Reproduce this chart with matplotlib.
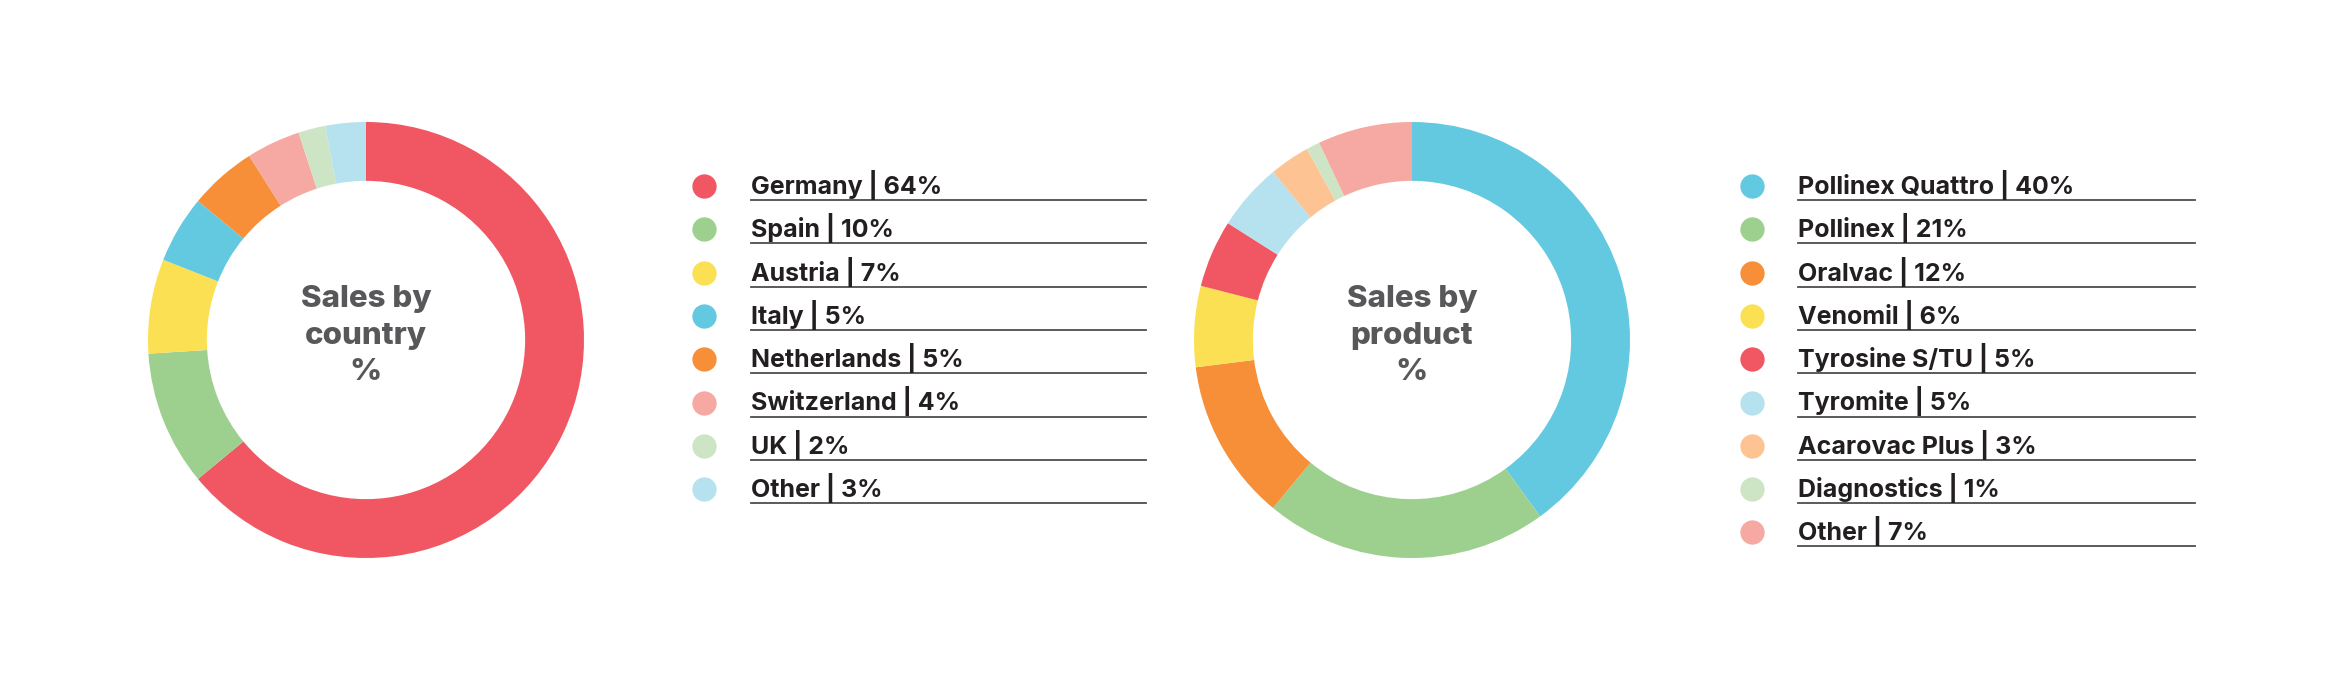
import matplotlib
matplotlib.use("Agg")
import matplotlib.pyplot as plt
from matplotlib.lines import Line2D

### Data
countries = ["Germany", "Spain", "Austria", "Italy", "Netherlands", "Switzerland", "UK", "Other"]
country_share = [64, 10, 7, 5, 5, 4, 2, 3]
country_colors = ["#f05763", "#9dd08e", "#fbe053", "#63c9e0", "#f68f37", "#f6a9a2", "#cde5c5", "#b5e2ee"]

products = ["Pollinex Quattro", "Pollinex", "Oralvac", "Venomil", "Tyrosine S/TU", "Tyromite",
            "Acarovac Plus", "Diagnostics", "Other"]
product_share = [40, 21, 12, 6, 5, 5, 3, 1, 7]
product_colors = ["#63c9e0", "#9dd08e", "#f68f37", "#fbe053", "#f05763", "#b5e2ee", "#fdc393", "#cde5c5", "#f6a9a2"]

### Layout (pixels, measured from top-left)
W, H = 2352, 683
DPI = 100
plt.rcParams['font.family'] = ['Inter', 'DejaVu Sans']

fig = plt.figure(figsize=(W / DPI, H / DPI), dpi=DPI)
fig.patch.set_facecolor("white")

def fx(x):
	return x / W

def fy(y):
	return 1 - y / H

def donut(cx, cy, r, values, cols, title):
	ax = fig.add_axes([fx(cx - r), fy(cy + r), 2 * r / W, 2 * r / H])
	ax.pie(values, colors=cols, startangle=90, counterclock=False, radius=1,
		wedgeprops=dict(width=0.27, linewidth=0))
	ax.set_xlim(-1, 1)
	ax.set_ylim(-1, 1)
	ax.set_aspect("auto")
	ax.axis("off")
	ax.text(0, 0.02, title, ha="center", va="center", fontsize=22.5, fontweight="heavy",
		color="#58585a", linespacing=1.4)

def legend(x_mark, x_text, x_end, y0, names, values, cols):
	step = 43.3
	for i, (n, v, c) in enumerate(zip(names, values, cols)):
		y = y0 + i * step
		fig.add_artist(Line2D([fx(x_mark)], [fy(y - 8)], marker="o", markersize=17.5,
			color=c, markeredgewidth=0, transform=fig.transFigure))
		fig.text(fx(x_text), fy(y), "%s | %d%%" % (n, v), ha="left", va="baseline",
			fontsize=18, fontweight="bold", color="#231f20")
		fig.add_artist(Line2D([fx(x_text), fx(x_end)], [fy(y + 6), fy(y + 6)],
			color="#4d4d4f", linewidth=1.3, transform=fig.transFigure))

donut(366, 340, 218, country_share, country_colors, "Sales by\ncountry\n%")
legend(704, 751, 1146, 194, countries, country_share, country_colors)

donut(1412, 340, 218, product_share, product_colors, "Sales by\nproduct\n%")
legend(1752, 1798, 2195, 194, products, product_share, product_colors)

fig.savefig("out.png", dpi=DPI, facecolor="white")
